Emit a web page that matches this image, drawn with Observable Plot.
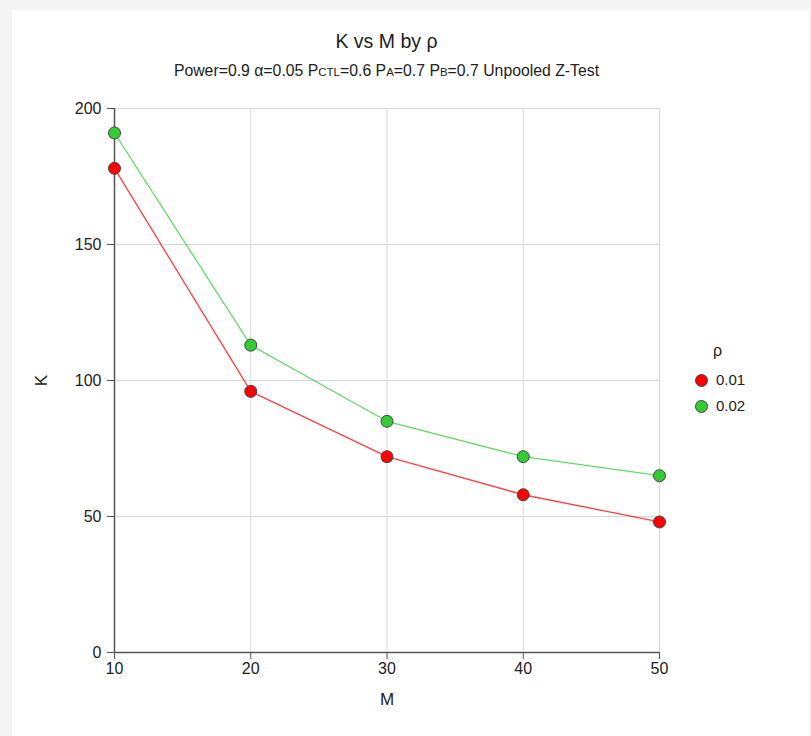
<!DOCTYPE html>
<html>
<head>
<meta charset="utf-8">
<script src="https://cdn.jsdelivr.net/npm/d3@7"></script>
<script src="https://cdn.jsdelivr.net/npm/@observablehq/plot@0.6"></script>
<style>
  html, body { margin: 0; padding: 0; background: #f5f5f5; width: 811px; height: 736px; overflow: hidden; font-family: "Liberation Sans", Arial, sans-serif; }
  #panel { position: absolute; left: 12px; top: 10px; width: 797px; height: 726px; background: #fff; }
  #title { position: absolute; left: 0; width: 773px; top: 30px; text-align: center; font-size: 19.5px; color: #222; }
  #subtitle { position: absolute; left: 0; width: 773px; top: 62px; text-align: center; font-size: 15.8px; color: #222; }
  .sc { font-size: 11.5px; }
  #chart { position: absolute; left: 0; top: 90px; }
  #legend { position: absolute; left: 693px; top: 340px; font-size: 15px; color: #222; }
  #legend .head { position: absolute; left: 20px; top: 2px; font-size: 16px; }
  #legend .item { position: absolute; left: 2px; white-space: nowrap; }
  #legend .sw { display: inline-block; width: 11px; height: 11px; border-radius: 50%; border: 1px solid #444; vertical-align: middle; margin-right: 8px; position: relative; top: -1px; }
</style>
</head>
<body>
<div id="panel"></div>
<div id="title">K vs M by ρ</div>
<div id="subtitle">Power=0.9 α=0.05 P<span class="sc">CTL</span>=0.6 P<span class="sc">A</span>=0.7 P<span class="sc">B</span>=0.7 Unpooled Z-Test</div>
<div id="chart"></div>
<div id="legend"></div>
<script>
const M = [10, 20, 30, 40, 50];
const rhoLevels = ["0.01", "0.02"];
const K_rho001 = [178, 96, 72, 58, 48];
const K_rho002 = [191, 113, 85, 72, 65];
const xTicks = [10, 20, 30, 40, 50];
const yTicks = [0, 50, 100, 150, 200];
const colors = ["#ff0000", "#33cc33"];

const seriesK = [K_rho001, K_rho002];
const data = [];
rhoLevels.forEach((r, i) => M.forEach((m, j) => data.push({M: m, K: seriesK[i][j], rho: r})));

const chart = Plot.plot({
  width: 811,
  height: 646,
  marginLeft: 114,
  marginRight: 152,
  marginTop: 18,
  marginBottom: 84,
  style: {fontFamily: "'Liberation Sans', Arial, sans-serif", fontSize: "16px", color: "#222", background: "transparent"},
  x: {domain: [10, 50]},
  y: {domain: [0, 200]},
  color: {domain: rhoLevels, range: colors},
  marks: [
    Plot.gridX(xTicks, {stroke: "#d9d9d9", strokeOpacity: 1}),
    Plot.gridY(yTicks, {stroke: "#d9d9d9", strokeOpacity: 1}),
    Plot.axisX(xTicks, {tickSize: 7, tickPadding: 3, stroke: "#555", label: null}),
    Plot.axisX({label: "M", labelAnchor: "center", labelArrow: "none", labelOffset: 52, ticks: [], fontSize: 17}),
    Plot.axisY(yTicks, {tickSize: 7, tickPadding: 6, stroke: "#555", label: null}),
    Plot.axisY({label: "K", labelAnchor: "center", labelArrow: "none", labelOffset: 80, ticks: [], fontSize: 17}),
    Plot.ruleX([10], {stroke: "#555", strokeWidth: 1.5}),
    Plot.ruleY([0], {stroke: "#555", strokeWidth: 1.5}),
    Plot.line(data, {x: "M", y: "K", z: "rho", stroke: "rho", strokeOpacity: 0.75, strokeWidth: 1.3}),
    Plot.dot(data, {x: "M", y: "K", fill: "rho", stroke: "#444", strokeWidth: 1, r: 6})
  ]
});
document.getElementById("chart").appendChild(chart);

const legend = document.getElementById("legend");
const head = document.createElement("div");
head.className = "head";
head.textContent = "ρ";
legend.appendChild(head);
rhoLevels.forEach((r, i) => {
  const item = document.createElement("div");
  item.className = "item";
  item.style.top = (31 + i * 26) + "px";
  item.innerHTML = `<span class="sw" style="background:${colors[i]}"></span>${r}`;
  legend.appendChild(item);
});
</script>
</body>
</html>
